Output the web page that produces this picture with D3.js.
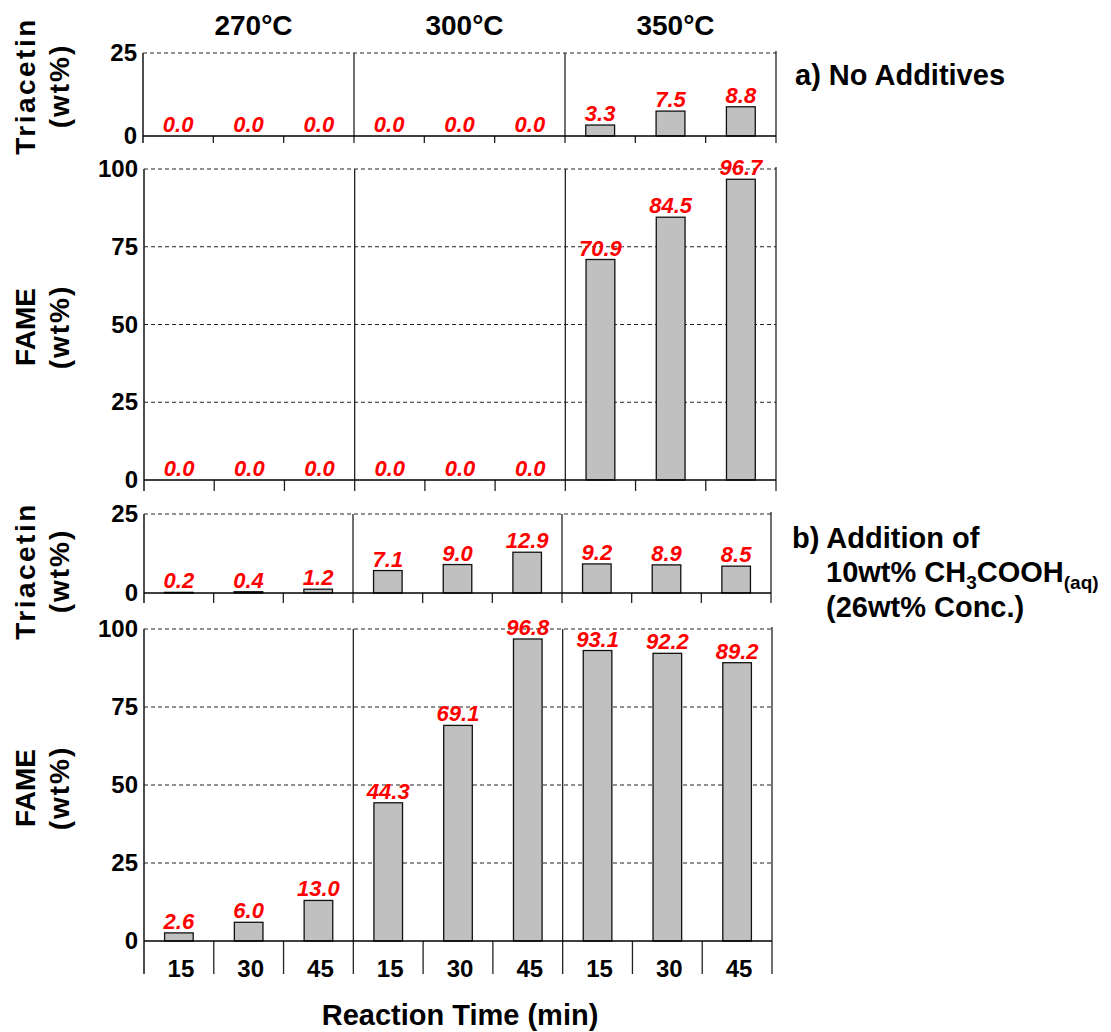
<!DOCTYPE html>
<html>
<head>
<meta charset="utf-8">
<script src="https://cdn.jsdelivr.net/npm/d3@7"></script>
<style>
  body { margin: 0; background: #fff; }
  svg { display: block; font-family: "Liberation Sans", Arial, sans-serif; font-weight: bold; }
  .val { fill: #ff0000; font-size: 22px; font-style: italic; text-anchor: middle; }
  .ytick { font-size: 24px; }
</style>
</head>
<body>
<div id="chart-area"><svg></svg></div>
<script>
const groups = ["270°C", "300°C", "350°C"];
const times = ["15", "30", "45"];
const triacetinA = [0.0, 0.0, 0.0, 0.0, 0.0, 0.0, 3.3, 7.5, 8.8];
const fameA = [0.0, 0.0, 0.0, 0.0, 0.0, 0.0, 70.9, 84.5, 96.7];
const triacetinB = [0.2, 0.4, 1.2, 7.1, 9.0, 12.9, 9.2, 8.9, 8.5];
const fameB = [2.6, 6.0, 13.0, 44.3, 69.1, 96.8, 93.1, 92.2, 89.2];
const triacetinTicks = [0, 25];
const fameTicks = [0, 25, 50, 75, 100];

const keys = groups.flatMap(g => times.map(t => `${g}|${t}`));
const f1 = d3.format(".1f");

const svg = d3.select("#chart-area svg")
    .attr("width", 1111)
    .attr("height", 1032);

const panels = [
    { values: triacetinA, ticks: triacetinTicks, title: "Triacetin", top: 53, bottom: 136, left: 143, right: 776, tick: 7, labelY: 86 },
    { values: fameA, ticks: fameTicks, title: "FAME", top: 169, bottom: 480, left: 144, right: 776, tick: 11, labelY: 327 },
    { values: triacetinB, ticks: triacetinTicks, title: "Triacetin", top: 514, bottom: 593, left: 144, right: 771, tick: 10, labelY: 571 },
    { values: fameB, ticks: fameTicks, title: "FAME", top: 629, bottom: 941, left: 144, right: 772, tick: 33, labelY: 788 }
];

const drawPanel = p => {
    const g = svg.append("g");
    const x = d3.scaleBand().domain(keys).range([p.left, p.right]).padding(0);
    const y = d3.scaleLinear().domain([0, d3.max(p.ticks)]).range([p.bottom, p.top]);
    const bw = x.bandwidth();
    const bounds = keys.map(k => x(k)).concat([p.right]);

    // dashed grid
    g.selectAll(".grid")
        .data(p.ticks.filter(t => t > 0))
        .enter().append("line")
        .attr("x1", p.left).attr("x2", p.right)
        .attr("y1", d => y(d)).attr("y2", d => y(d))
        .attr("stroke", "#222").attr("stroke-width", 1)
        .attr("stroke-dasharray", "4,3");

    // bars
    g.selectAll(".bar")
        .data(p.values)
        .enter().append("rect")
        .attr("x", (d, i) => x(keys[i]) + bw * 0.295)
        .attr("width", bw * 0.41)
        .attr("y", d => y(d))
        .attr("height", d => p.bottom - y(d))
        .attr("fill", "#c0c0c0")
        .attr("stroke", "#111")
        .attr("stroke-width", 1.3);

    // category ticks
    g.selectAll(".ctick")
        .data(bounds)
        .enter().append("line")
        .attr("x1", d => d).attr("x2", d => d)
        .attr("y1", (d, i) => (i % 3 === 0) ? (i === 9 ? p.top - 2 : p.top) : p.bottom)
        .attr("y2", p.bottom + p.tick)
        .attr("stroke", "#222")
        .attr("stroke-width", (d, i) => i === 0 ? 1.6 : 1.3);

    // bottom axis line
    g.append("line")
        .attr("x1", p.left).attr("x2", p.right)
        .attr("y1", p.bottom).attr("y2", p.bottom)
        .attr("stroke", "#000").attr("stroke-width", 1.6);

    // y tick labels
    const yAxis = d3.axisLeft(y).tickValues(p.ticks).tickSize(0).tickPadding(6);
    const ya = g.append("g")
        .attr("transform", `translate(${p.left},0)`)
        .call(yAxis);
    ya.select(".domain").remove();
    ya.selectAll("text")
        .attr("class", "ytick")
        .attr("fill", "#000")
        .attr("font-family", null)
        .attr("font-size", null);

    // value labels
    g.selectAll(".val")
        .data(p.values)
        .enter().append("text")
        .attr("class", "val")
        .attr("x", (d, i) => x(keys[i]) + bw / 2)
        .attr("y", d => y(d) - 4)
        .text(d => f1(d));

    // axis title
    const t = g.append("g")
        .attr("transform", `translate(0,${p.labelY}) rotate(-90)`);
    t.append("text")
        .attr("x", 0).attr("y", 35)
        .attr("text-anchor", "middle")
        .attr("font-size", 28)
        .attr("letter-spacing", p.title === "Triacetin" ? 2.5 : 0)
        .text(p.title);
    t.append("text")
        .attr("x", 0).attr("y", 69)
        .attr("text-anchor", "middle")
        .attr("font-size", 28)
        .attr("letter-spacing", 2)
        .text("(wt%)");

    return x;
};

const xs = panels.map(drawPanel);

// group titles
const xTop = xs[0];
svg.selectAll(".gtitle")
    .data(groups)
    .enter().append("text")
    .attr("x", (d, i) => xTop(`${d}|${times[1]}`) + xTop.bandwidth() / 2 + 5)
    .attr("y", 35)
    .attr("text-anchor", "middle")
    .attr("font-size", 28)
    .text(d => d);

// bottom time labels
const xBot = xs[3];
svg.selectAll(".tlabel")
    .data(keys)
    .enter().append("text")
    .attr("x", d => xBot(d) + xBot.bandwidth() / 2 + 2)
    .attr("y", 977)
    .attr("text-anchor", "middle")
    .attr("font-size", 24)
    .text(d => d.split("|")[1]);

svg.append("text")
    .attr("x", 460).attr("y", 1025)
    .attr("text-anchor", "middle")
    .attr("font-size", 29)
    .text("Reaction Time (min)");

// annotations
svg.append("text")
    .attr("x", 795).attr("y", 85)
    .attr("font-size", 29)
    .text("a) No Additives");

svg.append("text")
    .attr("x", 792).attr("y", 548)
    .attr("font-size", 29)
    .text("b) Addition of");

const chem = svg.append("text")
    .attr("x", 826).attr("y", 582)
    .attr("font-size", 29);
chem.append("tspan").text("10wt% CH");
chem.append("tspan").attr("font-size", 19).attr("dy", 7).text("3");
chem.append("tspan").attr("dy", -7).text("COOH");
chem.append("tspan").attr("font-size", 19).attr("dy", 7).text("(aq)");

svg.append("text")
    .attr("x", 826).attr("y", 617)
    .attr("font-size", 29)
    .text("(26wt% Conc.)");
</script>
</body>
</html>
